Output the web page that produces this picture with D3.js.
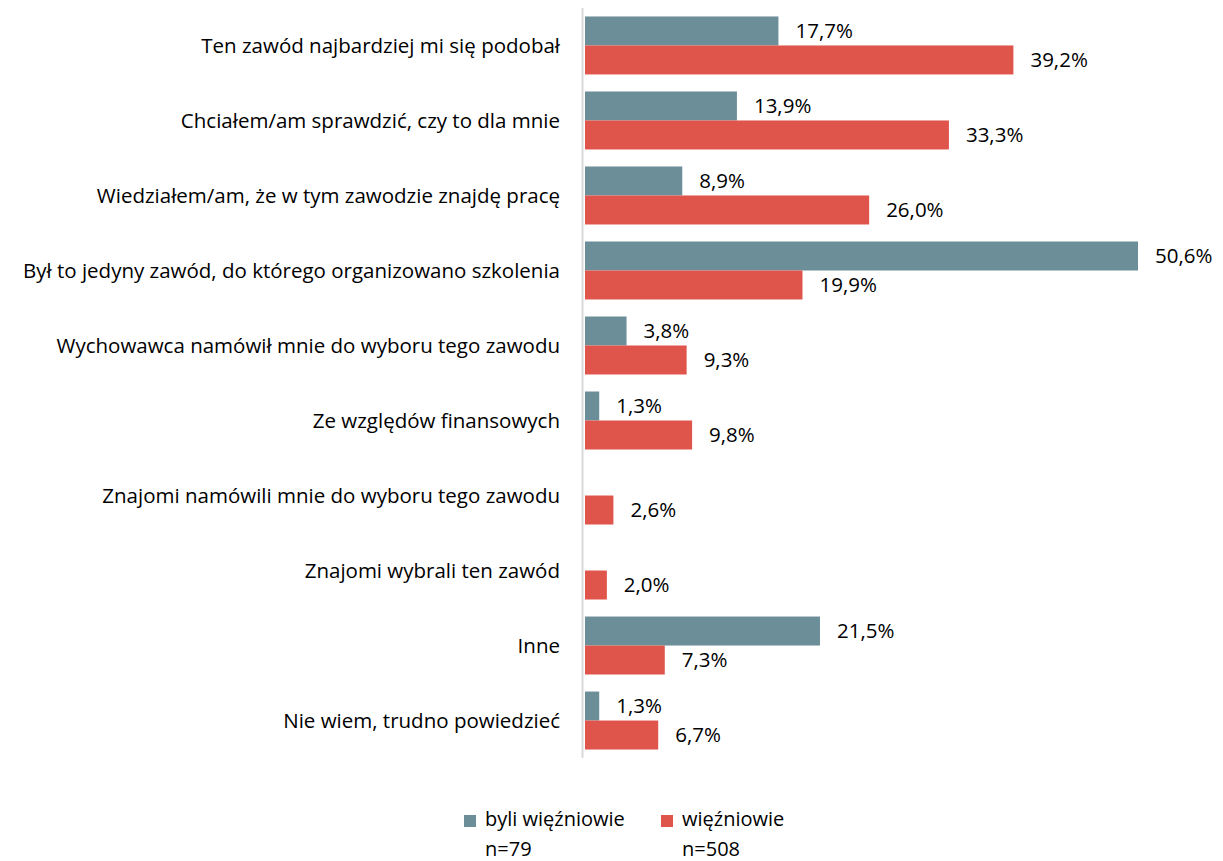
<!DOCTYPE html>
<html><head><meta charset="utf-8">
<script src="https://cdn.jsdelivr.net/npm/d3@7"></script>
<style>body{margin:0;background:#fff;} text{font-family:"Open Sans",sans-serif;fill:#000;}</style>
</head><body><svg id="c" width="1223" height="861"></svg>
<script>
const categories = [
  "Ten zawód najbardziej mi się podobał",
  "Chciałem/am sprawdzić, czy to dla mnie",
  "Wiedziałem/am, że w tym zawodzie znajdę pracę",
  "Był to jedyny zawód, do którego organizowano szkolenia",
  "Wychowawca namówił mnie do wyboru tego zawodu",
  "Ze względów finansowych",
  "Znajomi namówili mnie do wyboru tego zawodu",
  "Znajomi wybrali ten zawód",
  "Inne",
  "Nie wiem, trudno powiedzieć"
];
const byliWiezniowie = [17.7, 13.9, 8.9, 50.6, 3.8, 1.3, null, null, 21.5, 1.3];
const wiezniowie = [39.2, 33.3, 26.0, 19.9, 9.3, 9.8, 2.6, 2.0, 7.3, 6.7];
const seriesNames = ["byli więźniowie", "więźniowie"];
const seriesN = ["n=79", "n=508"];
const colors = ["#6B8E98", "#E0554B"];

const svg = d3.select("#c");
const x0 = 585;
const x = d3.scaleLinear().domain([0, 50.6]).range([x0, 1138]);
const y = d3.scaleBand().domain(categories).range([8, 758]).paddingInner(0.227).paddingOuter(0.113);
const sub = d3.scaleBand().domain([0,1]).range([0, y.bandwidth()]);

svg.append("line").attr("x1", 582.5).attr("x2", 582.5).attr("y1", 8).attr("y2", 758)
  .attr("stroke", "#d9d9d9").attr("stroke-width", 2);

const fs = 20.5;
const data = [byliWiezniowie, wiezniowie];
data.forEach((vals, s) => {
  const g = svg.append("g");
  categories.forEach((c, i) => {
    const v = vals[i];
    if (v == null) return;
    const yy = y(c) + sub(s);
    g.append("rect").attr("x", x(0)).attr("y", yy).attr("width", x(v) - x(0)).attr("height", sub.bandwidth())
      .attr("fill", colors[s]);
    g.append("text").attr("x", x(v) + 17).attr("y", yy + sub.bandwidth()/2).attr("dy", "0.36em")
      .attr("font-size", fs).text(v.toFixed(1).replace(".", ",") + "%");
  });
});

categories.forEach(c => {
  svg.append("text").attr("x", 560).attr("y", y(c) + y.bandwidth()/2).attr("dy", "0.36em")
    .attr("text-anchor", "end").attr("font-size", fs).text(c);
});

const lx = [464, 661];
seriesNames.forEach((n, s) => {
  svg.append("rect").attr("x", lx[s]).attr("y", 815).attr("width", 12).attr("height", 12).attr("fill", colors[s]);
  svg.append("text").attr("x", lx[s] + 21).attr("y", 826).attr("font-size", 20).text(n);
  svg.append("text").attr("x", lx[s] + 21).attr("y", 856).attr("font-size", 20).text(seriesN[s]);
});
</script></body></html>
